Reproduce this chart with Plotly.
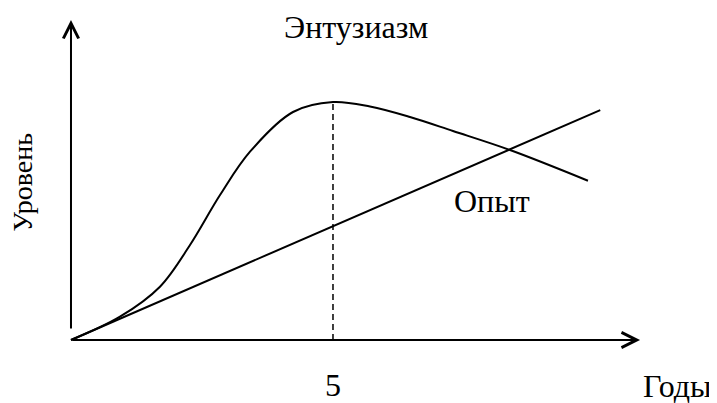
import plotly.graph_objects as go

# Энтузиазм (кривая) — годы / уровень
years_ent = [0, 0.935, 1.698, 2.271, 2.844, 3.416, 4.237, 5.0,
             5.706, 6.469, 7.290, 8.378, 9.866]
level_ent = [0, 9.79, 22.40, 39.92, 60.92, 79.12, 95.80, 100.0,
             98.11, 93.70, 87.82, 79.83, 66.93]

# Опыт (прямая)
years_exp = [0, 10.10]
level_exp = [0, 96.6]

peak_year = 5
peak_level = 100

x_axis_end = 10.86
y_axis_start = 4.2
y_axis_end = 134.5

FONT = "Liberation Serif, Times New Roman, serif"

fig = go.Figure()

fig.add_trace(go.Scatter(
    x=years_ent, y=level_ent, mode="lines",
    line=dict(color="black", width=2, shape="spline", smoothing=1.0),
    hoverinfo="skip"
))
fig.add_trace(go.Scatter(
    x=years_exp, y=level_exp, mode="lines",
    line=dict(color="black", width=2),
    hoverinfo="skip"
))
fig.add_trace(go.Scatter(
    x=[peak_year, peak_year], y=[0, peak_level], mode="lines",
    line=dict(color="black", width=1.5, dash="6px,4px"),
    hoverinfo="skip"
))

arrow = dict(showarrow=True, arrowhead=5, arrowsize=1.5, arrowwidth=2,
             arrowcolor="black", axref="x", ayref="y", xref="x", yref="y", text="")
annotations = [
    dict(arrow, x=x_axis_end, y=0, ax=0, ay=0),
    dict(arrow, x=0, y=y_axis_end, ax=0, ay=y_axis_start),
]

txt = dict(showarrow=False, xref="x", yref="y", font=dict(family=FONT, size=32, color="black"))
annotations += [
    dict(txt, text="Энтузиазм", x=5.43, y=131.7),
    dict(txt, text="Опыт", x=8.03, y=58.4),
    dict(txt, text="5", x=peak_year, y=-18.9),
    dict(txt, text="Годы", x=11.58, y=-19.3),
    dict(txt, text="Уровень", x=-0.93, y=66.2, textangle=-90,
         font=dict(family=FONT, size=28, color="black")),
]

# страница смещена на 8px (отступ body), поэтому диапазоны сдвинуты
fig.update_layout(
    width=717, height=403,
    margin=dict(l=0, r=0, t=0, b=0),
    paper_bgcolor="white", plot_bgcolor="white",
    showlegend=False,
    xaxis=dict(visible=False, range=[-1.202, 12.481], fixedrange=True),
    yaxis=dict(visible=False, range=[-29.83, 139.50], fixedrange=True),
    annotations=annotations,
)

fig.write_html("out.html")
